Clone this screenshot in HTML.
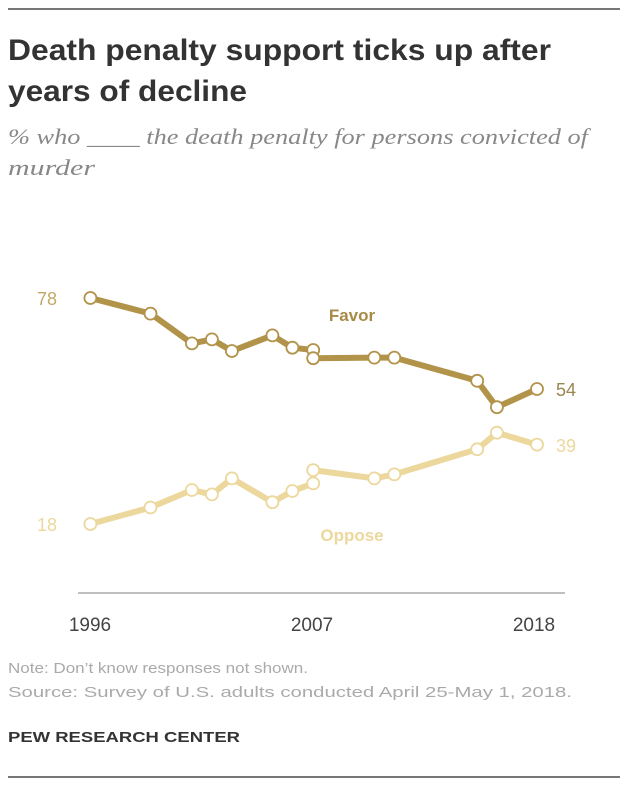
<!DOCTYPE html>
<html><head><meta charset="utf-8"><style>
body{margin:0;background:#fff;width:628px;height:786px;overflow:hidden}
svg{display:block}
</style></head><body>
<svg width="628" height="786" viewBox="0 0 628 786" xmlns="http://www.w3.org/2000/svg">
<line x1="8" y1="9" x2="620" y2="9" stroke="#777" stroke-width="2"/>
<g font-family="'Liberation Sans',sans-serif" font-weight="bold" font-size="30" fill="#333">
<text x="8" y="60" textLength="543" lengthAdjust="spacingAndGlyphs">Death penalty support ticks up after</text>
<text x="8" y="101" textLength="239" lengthAdjust="spacingAndGlyphs">years of decline</text>
</g>
<g font-family="'Liberation Serif',serif" font-style="italic" font-size="22" fill="#888">
<text x="8" y="144" textLength="580" lengthAdjust="spacingAndGlyphs">% who ____ the death penalty for persons convicted of</text>
<text x="8" y="175" textLength="87" lengthAdjust="spacingAndGlyphs">murder</text>
</g>
<line x1="78" y1="593" x2="565" y2="593" stroke="#aaa" stroke-width="1.5"/>
<g font-family="'Liberation Sans',sans-serif" font-size="19" fill="#444">
<text x="90" y="631" text-anchor="middle">1996</text>
<text x="312" y="631" text-anchor="middle">2007</text>
<text x="534" y="631" text-anchor="middle">2018</text>
</g>
<polyline fill="none" stroke="#ecd89d" stroke-width="6" stroke-linejoin="round" points="90.4,524 150.5,507.5 191.9,490 211.9,494.4 231.9,478.4 272.4,502.2 292.4,491 313.2,483.4 313.2,470.1 374.3,478.4 394.3,474.4 477.2,449.3 496.9,432.7 537,444.6"/>
<polyline fill="none" stroke="#b2934a" stroke-width="6" stroke-linejoin="round" points="90.4,298 150.5,313.6 191.9,343.4 211.9,339.4 231.9,351 272.4,335.4 292.4,347.7 313.2,350 313.2,358.2 374.3,357.6 394.3,357.6 477.2,380.8 496.9,407.2 537,389"/>
<g fill="#fff" stroke="#ecd89d" stroke-width="1.8">
<circle cx="90.4" cy="524" r="6"/><circle cx="150.5" cy="507.5" r="6"/><circle cx="191.9" cy="490" r="6"/><circle cx="211.9" cy="494.4" r="6"/><circle cx="231.9" cy="478.4" r="6"/><circle cx="272.4" cy="502.2" r="6"/><circle cx="292.4" cy="491" r="6"/><circle cx="313.2" cy="483.4" r="6"/><circle cx="313.2" cy="470.1" r="6"/><circle cx="374.3" cy="478.4" r="6"/><circle cx="394.3" cy="474.4" r="6"/><circle cx="477.2" cy="449.3" r="6"/><circle cx="496.9" cy="432.7" r="6"/><circle cx="537" cy="444.6" r="6"/>
</g>
<g fill="#fff" stroke="#b2934a" stroke-width="1.8">
<circle cx="90.4" cy="298" r="6"/><circle cx="150.5" cy="313.6" r="6"/><circle cx="191.9" cy="343.4" r="6"/><circle cx="211.9" cy="339.4" r="6"/><circle cx="231.9" cy="351" r="6"/><circle cx="272.4" cy="335.4" r="6"/><circle cx="292.4" cy="347.7" r="6"/><circle cx="313.2" cy="350" r="6"/><circle cx="313.2" cy="358.2" r="6"/><circle cx="374.3" cy="357.6" r="6"/><circle cx="394.3" cy="357.6" r="6"/><circle cx="477.2" cy="380.8" r="6"/><circle cx="496.9" cy="407.2" r="6"/><circle cx="537" cy="389" r="6"/>
</g>
<g font-family="'Liberation Sans',sans-serif" font-size="18">
<text x="37" y="305" fill="#c4a866">78</text>
<text x="37" y="531" fill="#ecd89d">18</text>
<text x="556" y="396" fill="#9a8650">54</text>
<text x="556" y="452" fill="#ecd89d">39</text>
</g>
<g font-family="'Liberation Sans',sans-serif" font-weight="bold" font-size="17">
<text x="352" y="321" text-anchor="middle" fill="#a88a46">Favor</text>
<text x="352" y="541" text-anchor="middle" fill="#ecd89d">Oppose</text>
</g>
<g font-family="'Liberation Sans',sans-serif" font-size="15" fill="#aaa">
<text x="8" y="673" textLength="300" lengthAdjust="spacingAndGlyphs">Note: Don’t know responses not shown.</text>
<text x="8" y="697" textLength="564" lengthAdjust="spacingAndGlyphs">Source: Survey of U.S. adults conducted April 25-May 1, 2018.</text>
</g>
<text x="8" y="742" font-family="'Liberation Sans',sans-serif" font-size="15" font-weight="bold" fill="#333" textLength="232" lengthAdjust="spacingAndGlyphs">PEW RESEARCH CENTER</text>
<line x1="8" y1="777" x2="620" y2="777" stroke="#777" stroke-width="2"/>
</svg>
</body></html>
